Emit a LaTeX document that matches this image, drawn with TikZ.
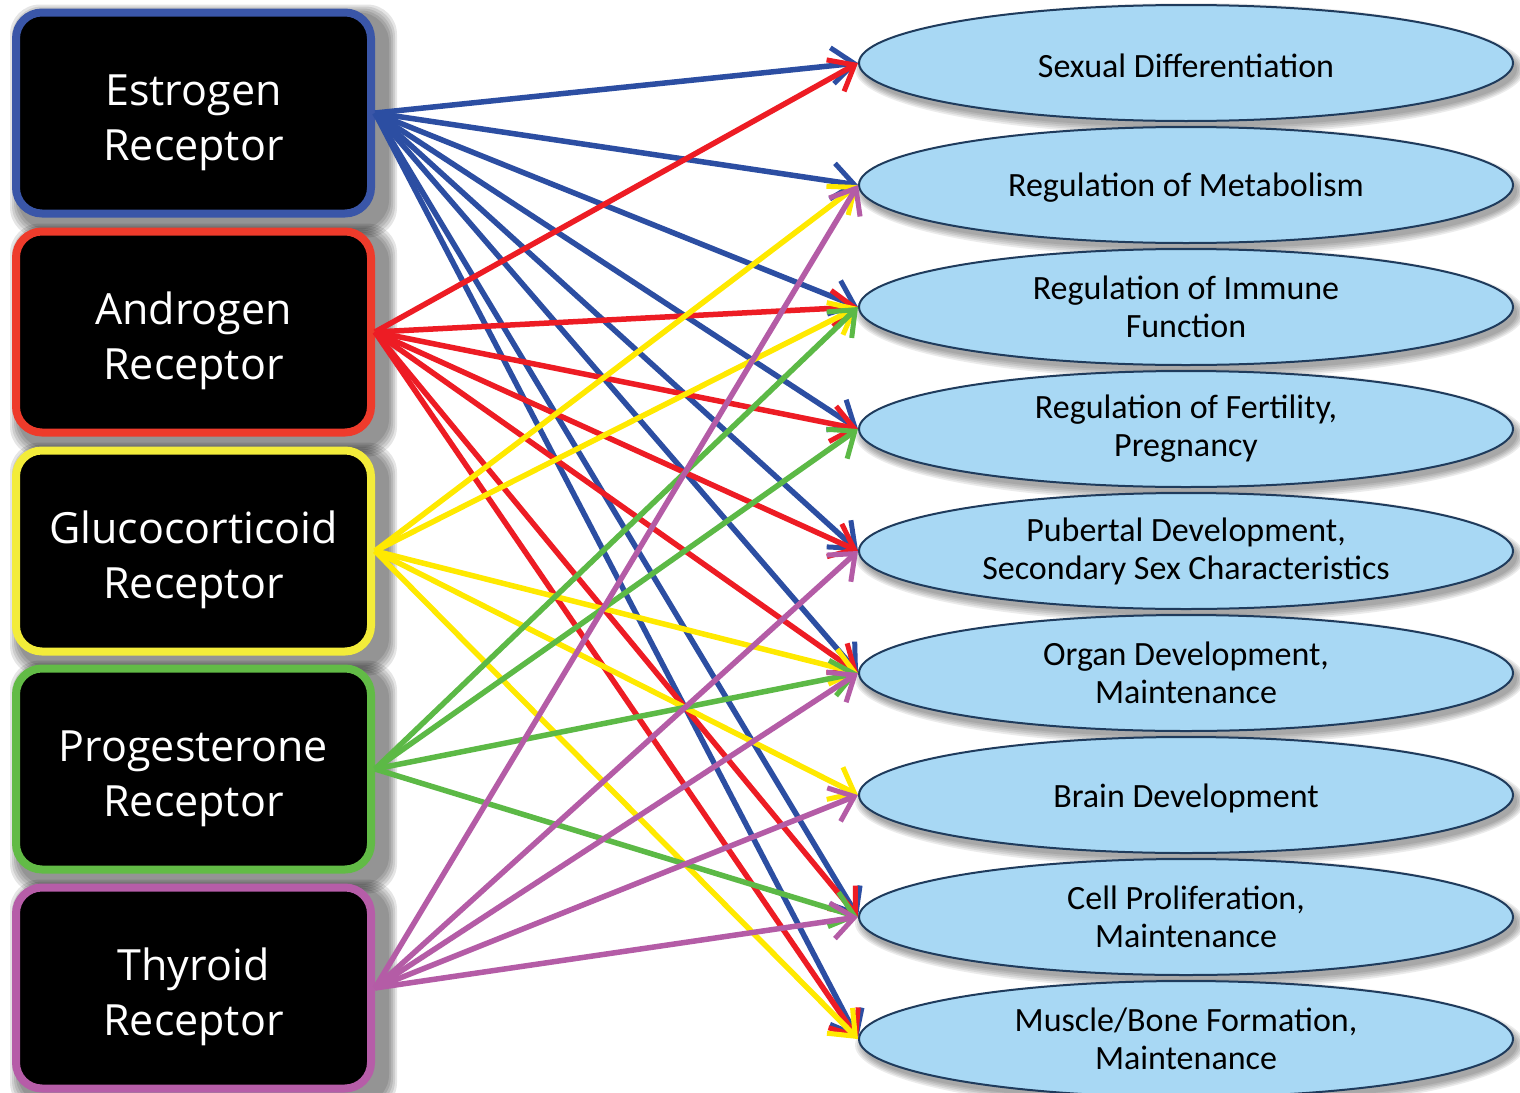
\documentclass[tikz,border=0pt]{standalone}
\usepackage{fontspec}
\setmainfont{Carlito}
\newfontfamily\boxfont{Open Sans}
\usetikzlibrary{arrows.meta,shapes.geometric,calc,backgrounds}
\definecolor{bblue}{HTML}{3A56A8}
\definecolor{bred}{HTML}{EE3B2B}
\definecolor{byellow}{HTML}{F3EC3A}
\definecolor{bgreen}{HTML}{62BB46}
\definecolor{bpurple}{HTML}{B65DA8}
\definecolor{lblue}{HTML}{2C4EA2}
\definecolor{lred}{HTML}{ED1C24}
\definecolor{lyellow}{HTML}{FFE900}
\definecolor{lgreen}{HTML}{5CB946}
\definecolor{lpurple}{HTML}{B45CA6}
\definecolor{ellfill}{HTML}{A8D8F4}
\definecolor{ellborder}{HTML}{1F3B5C}
\newcommand{\boxtext}[2]{\raisebox{-9pt}[\height][\depth]{\begin{tabular}{@{}c@{}}#1\\#2\end{tabular}}}
\newcommand{\lowtext}[1]{\raisebox{-3pt}[\height][\depth]{#1}}
\begin{document}
\begin{tikzpicture}[x=1pt,y=-1pt,
  recbox/.style={draw, line width=8pt, fill=black, rounded corners=26pt,
    minimum width=355pt, minimum height=201pt, text=white,
    inner sep=0pt, font=\boxfont\fontsize{43}{55}\selectfont},
  effect/.style={ellipse, draw=ellborder, line width=2pt, fill=ellfill,
    minimum width=654pt, minimum height=116pt, align=center, inner sep=0pt,
    font=\fontsize{34}{38}\selectfont},
  link/.style={line width=5.5pt, -{Straight Barb[length=22pt,width=36pt,line width=5pt]}}
]
\useasboundingbox (0,0) rectangle (1520,1092);

% receptor boxes
\node[recbox, draw=bblue]   (er) at (193.5,113) {\boxtext{Estrogen}{Receptor}};
\node[recbox, draw=bred]    (ar) at (193.5,332) {\boxtext{Androgen}{Receptor}};
\node[recbox, draw=byellow] (gr) at (193.5,551) {\boxtext{Glucocorticoid}{Receptor}};
\node[recbox, draw=bgreen]  (pr) at (193.5,769) {\boxtext{Progesterone}{Receptor}};
\node[recbox, draw=bpurple] (tr) at (193.5,988) {\boxtext{Thyroid}{Receptor}};

% effect ellipses
\node[effect] (e1) at (1186,63)   {\lowtext{Sexual Differentiation}};
\node[effect] (e2) at (1186,185)  {\lowtext{Regulation of Metabolism}};
\node[effect] (e3) at (1186,307)  {Regulation of Immune\\Function};
\node[effect] (e4) at (1186,429)  {Regulation of Fertility,\\Pregnancy};
\node[effect] (e5) at (1186,551)  {Pubertal Development,\\Secondary Sex Characteristics};
\node[effect] (e6) at (1186,673)  {Organ Development,\\Maintenance};
\node[effect] (e7) at (1186,795)  {\lowtext{Brain Development}};
\node[effect] (e8) at (1186,917)  {Cell Proliferation,\\Maintenance};
\node[effect] (e9) at (1186,1039) {Muscle/Bone Formation,\\Maintenance};

% shadows
\begin{pgfonlayer}{background}
\fill[white] (0,0) rectangle (1520,1092);
\foreach \n in {er,ar,gr,pr,tr}{
  \foreach \e in {0,2,...,8}{
    \fill[black,opacity=0.1,rounded corners=30pt]
      ($(\n.north west)+(6-\e,4-\e)$) rectangle ($(\n.south east)+(14+\e,12+\e)$);
  }
}
\foreach \n in {e1,e2,e3,e4,e5,e6,e7,e8,e9}{
  \foreach \e in {0,2,...,8}{
    \fill[black,opacity=0.08] ($(\n.center)+(4,6)$) ellipse [x radius={327+\e}, y radius={58+\e}];
  }
}
\end{pgfonlayer}

% connectors
\foreach \t in {e1,e2,e3,e4,e5,e6,e8,e9}
  \draw[link, lblue] (er.east) -- (\t.west);
\foreach \t in {e1,e3,e4,e5,e6,e8,e9}
  \draw[link, lred] (ar.east) -- (\t.west);
\foreach \t in {e2,e3,e6,e7,e9}
  \draw[link, lyellow] (gr.east) -- (\t.west);
\foreach \t in {e3,e4,e6,e8}
  \draw[link, lgreen] (pr.east) -- (\t.west);
\foreach \t in {e2,e5,e6,e7,e8}
  \draw[link, lpurple] (tr.east) -- (\t.west);
\end{tikzpicture}
\end{document}
